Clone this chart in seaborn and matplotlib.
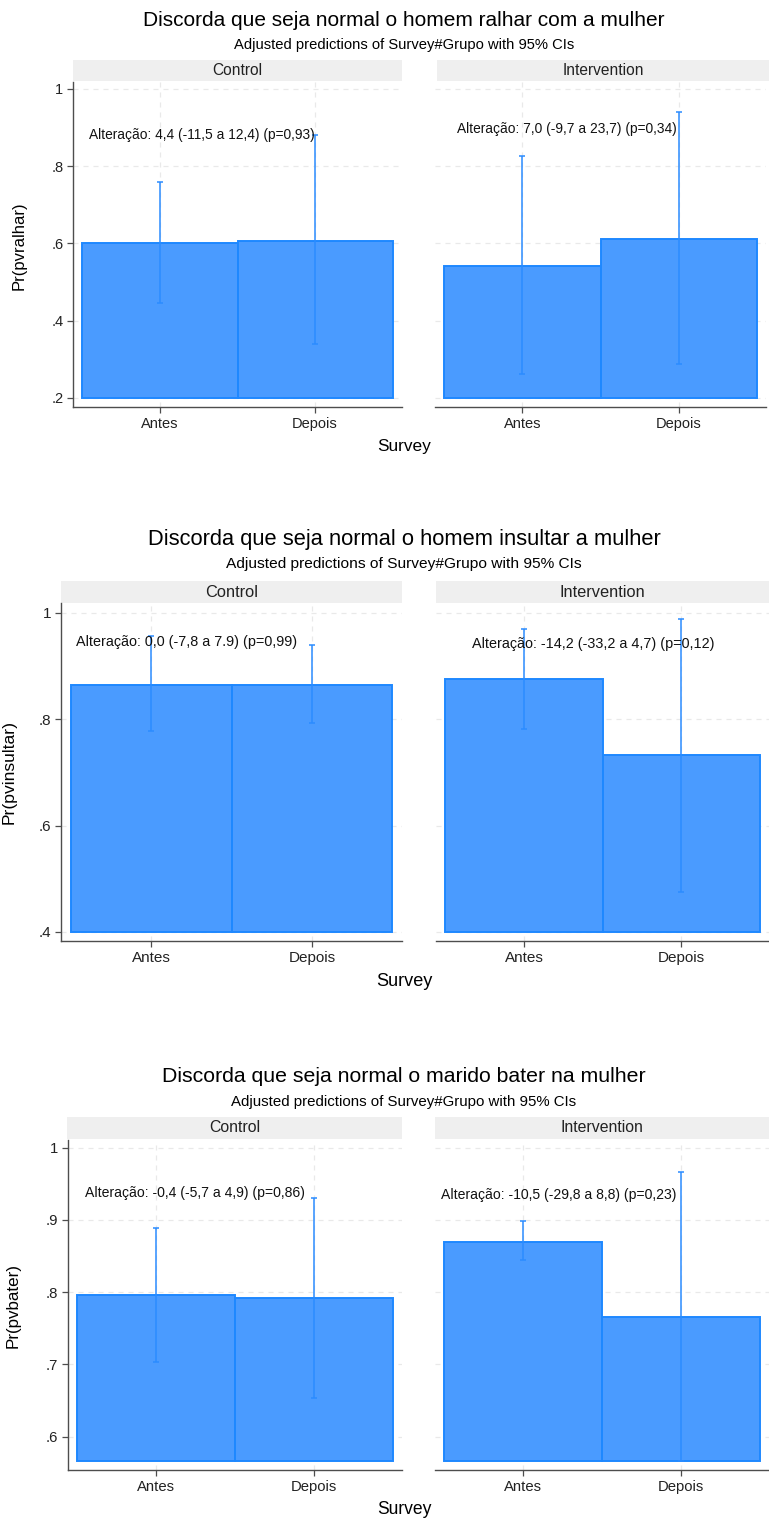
import numpy as np
import pandas as pd
import matplotlib
matplotlib.use("Agg")
import matplotlib.pyplot as plt
import seaborn as sns

# ---------------------------------------------------------------- data
groups = ["Control", "Intervention"]
surveys = ["Antes", "Depois"]

titles = [
    "Discorda que seja normal o homem ralhar com a mulher",
    "Discorda que seja normal o homem insultar a mulher",
    "Discorda que seja normal o marido bater na mulher",
]
subtitle = "Adjusted predictions of Survey#Grupo with 95% CIs"
ylabels = ["Pr(pvralhar)", "Pr(pvinsultar)", "Pr(pvbater)"]
xlabel = "Survey"

# pvralhar: predicted probability and 95% CI, [Antes, Depois]
ralhar_control = [0.602, 0.607]
ralhar_control_lo = [0.447, 0.339]
ralhar_control_hi = [0.760, 0.880]
ralhar_interv = [0.542, 0.612]
ralhar_interv_lo = [0.261, 0.289]
ralhar_interv_hi = [0.826, 0.939]

# pvinsultar
insultar_control = [0.865, 0.865]
insultar_control_lo = [0.778, 0.792]
insultar_control_hi = [0.956, 0.939]
insultar_interv = [0.875, 0.732]
insultar_interv_lo = [0.781, 0.475]
insultar_interv_hi = [0.969, 0.988]

# pvbater
bater_control = [0.796, 0.792]
bater_control_lo = [0.703, 0.653]
bater_control_hi = [0.889, 0.931]
bater_interv = [0.870, 0.765]
bater_interv_lo = [0.845, 0.566]
bater_interv_hi = [0.898, 0.966]

notes_ralhar = ["Alteração: 4,4 (-11,5 a 12,4) (p=0,93)",
                "Alteração: 7,0 (-9,7 a 23,7) (p=0,34)"]
notes_insultar = ["Alteração: 0,0 (-7,8 a 7.9) (p=0,99)",
                  "Alteração: -14,2 (-33,2 a 4,7) (p=0,12)"]
notes_bater = ["Alteração: -0,4 (-5,7 a 4,9) (p=0,86)",
               "Alteração: -10,5 (-29,8 a 8,8) (p=0,23)"]

yticks_ralhar = [0.2, 0.4, 0.6, 0.8, 1.0]
yticklabels_ralhar = [".2", ".4", ".6", ".8", "1"]
yticks_insultar = [0.4, 0.6, 0.8, 1.0]
yticklabels_insultar = [".4", ".6", ".8", "1"]
yticks_bater = [0.6, 0.7, 0.8, 0.9, 1.0]
yticklabels_bater = [".6", ".7", ".8", ".9", "1"]

# ---------------------------------------------------------------- style
sns.set_theme(style="ticks")
plt.rcParams["font.family"] = ["Liberation Sans", "DejaVu Sans"]

W, H = 769, 1520
FILL = "#4a9bff"
EDGE = "#1e88ff"
ERR = "#2b8cff"
SPINE = "#4d4d4d"
GRID = "#e9e9e9"
STRIP = "#efefef"

fig = plt.figure(figsize=(W / 100, H / 100), dpi=100)
fig.patch.set_facecolor("white")


def px_axes(left, top, right, bottom):
    return fig.add_axes([left / W, 1 - bottom / H, (right - left) / W, (bottom - top) / H])


def fig_text(x, y, s, **kw):
    fig.text(x / W, 1 - y / H, s, **kw)


panels = [
    dict(
        pred=[ralhar_control, ralhar_interv],
        lo=[ralhar_control_lo, ralhar_interv_lo],
        hi=[ralhar_control_hi, ralhar_interv_hi],
        notes=notes_ralhar,
        note_xy=[(-0.458, 0.880), (-0.421, 0.897)],
        yticks=yticks_ralhar, yticklabels=yticklabels_ralhar,
        base=0.2, ylim=(0.1767, 1.0176), scale=1.0,
        axes_px=[(73, 82, 402, 407), (435, 82, 766, 407)],
        strip_px=[(73, 60, 402, 81), (437, 60, 769, 81)],
        title_y=20, sub_y=45, ylabel_xy=(19, 246), xlabel_y=446,
    ),
    dict(
        pred=[insultar_control, insultar_interv],
        lo=[insultar_control_lo, insultar_interv_lo],
        hi=[insultar_control_hi, insultar_interv_hi],
        notes=notes_insultar,
        note_xy=[(-0.469, 0.946), (-0.333, 0.941)],
        yticks=yticks_insultar, yticklabels=yticklabels_insultar,
        base=0.4, ylim=(0.383, 1.0184), scale=1.05,
        axes_px=[(61, 603, 402, 941), (436, 603, 769, 941)],
        strip_px=[(61, 581, 402, 603), (436, 581, 769, 603)],
        title_y=540, sub_y=564, ylabel_xy=(9, 772), xlabel_y=982,
    ),
    dict(
        pred=[bater_control, bater_interv],
        lo=[bater_control_lo, bater_interv_lo],
        hi=[bater_control_hi, bater_interv_hi],
        notes=notes_bater,
        note_xy=[(-0.451, 0.937), (-0.520, 0.934)],
        yticks=yticks_bater, yticklabels=yticklabels_bater,
        base=0.567, ylim=(0.5539, 1.0107), scale=1.02,
        axes_px=[(68, 1140, 402, 1470), (435, 1140, 769, 1470)],
        strip_px=[(67, 1117, 402, 1139), (435, 1117, 769, 1139)],
        title_y=1076, sub_y=1102, ylabel_xy=(13, 1306), xlabel_y=1510,
    ),
]

for k, p in enumerate(panels):
    s = p["scale"]
    fig_text(404, p["title_y"], titles[k], ha="center", va="center",
             fontsize=15 * s, color="black")
    fig_text(404, p["sub_y"], subtitle, ha="center", va="center",
             fontsize=10.6 * s, color="black")
    fig_text(p["ylabel_xy"][0], p["ylabel_xy"][1], ylabels[k], ha="center",
             va="center", rotation=90, fontsize=12 * s, color="black")
    fig_text(404, p["xlabel_y"], xlabel, ha="center", va="center",
             fontsize=12.4 * s, color="black")

    for g, group in enumerate(groups):
        # facet header
        sx = px_axes(*p["strip_px"][g])
        sx.set_facecolor(STRIP)
        sx.set_xticks([])
        sx.set_yticks([])
        for sp in sx.spines.values():
            sp.set_visible(False)
        sx.text(0.5, 0.5, group, transform=sx.transAxes, ha="center",
                va="center", fontsize=11.2 * s, color="#222222")

        ax = px_axes(*p["axes_px"][g])
        pred = np.array(p["pred"][g])
        lo = np.array(p["lo"][g])
        hi = np.array(p["hi"][g])
        df = pd.DataFrame({"Survey": surveys, "height": pred - p["base"]})
        sns.barplot(data=df, x="Survey", y="height", bottom=p["base"],
                    width=1.0, color=FILL, saturation=1, edgecolor=EDGE,
                    linewidth=1.4, errorbar=None, ax=ax, zorder=2)
        ax.errorbar(x=[0, 1], y=pred, yerr=[pred - lo, hi - pred], fmt="none",
                    ecolor=ERR, elinewidth=1.1, capsize=2, capthick=1.1, zorder=3)

        ax.set_xlim(-0.56, 1.56)
        ax.set_ylim(*p["ylim"])
        ax.set_yticks(p["yticks"])
        ax.set_yticklabels(p["yticklabels"])
        ax.set_xticks([0, 1])
        ax.set_xticklabels(surveys)
        ax.set_xlabel("")
        ax.set_ylabel("")
        ax.set_axisbelow(True)
        ax.grid(True, axis="both", linestyle=(0, (4, 4)), color=GRID, linewidth=0.9)
        ax.set_facecolor("white")

        for side in ["top", "right"]:
            ax.spines[side].set_visible(False)
        ax.spines["bottom"].set_color(SPINE)
        ax.spines["bottom"].set_linewidth(1.0)
        ax.spines["left"].set_color(SPINE)
        ax.spines["left"].set_linewidth(1.0)
        ax.tick_params(axis="both", direction="out", length=4, width=0.9,
                       color=SPINE, labelsize=10.5 * s, labelcolor="#222222", pad=3)
        if g == 1:
            ax.spines["left"].set_visible(False)
            ax.tick_params(axis="y", left=False, labelleft=False)

        nx, ny = p["note_xy"][g]
        ax.text(nx, ny, p["notes"][g], ha="left", va="center", fontsize=9.9 * s,
                color="#111111", zorder=4)

fig.savefig("out.png", dpi=100, facecolor="white")
